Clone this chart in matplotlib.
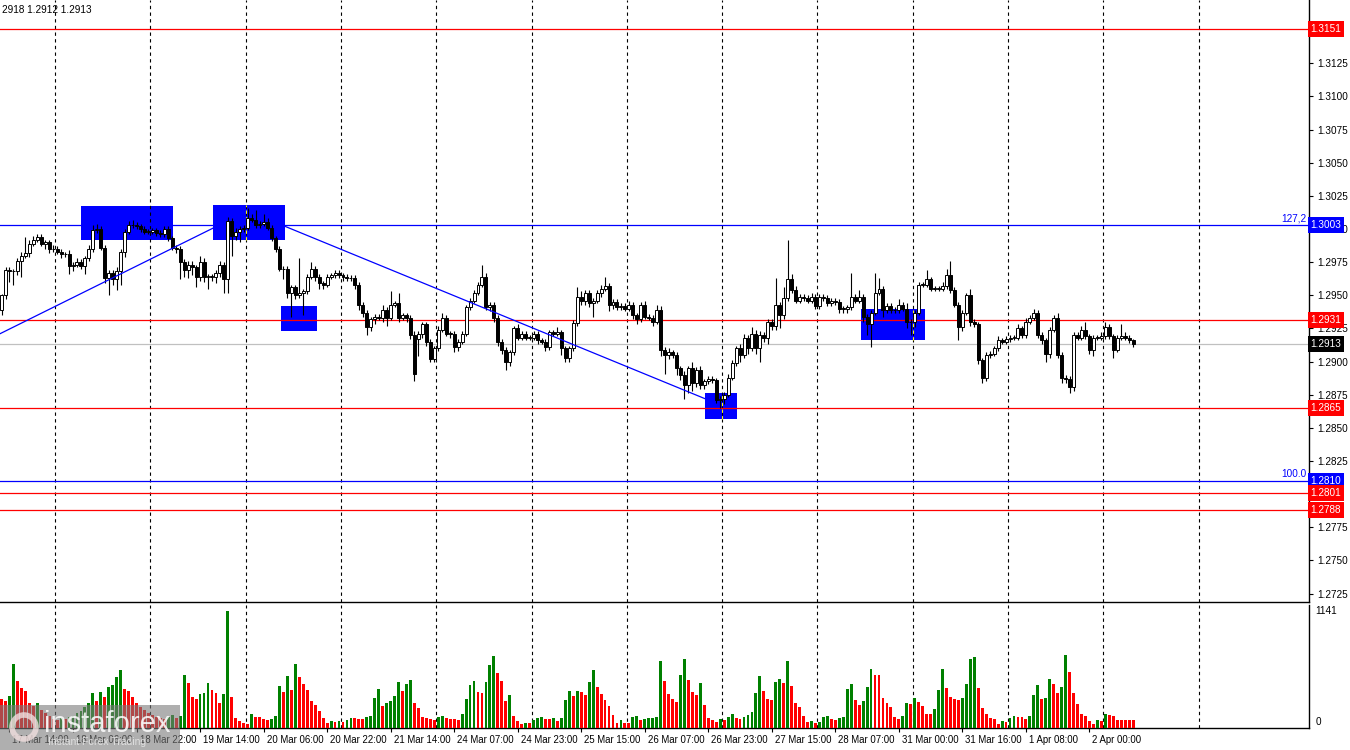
"""GBPUSD H1 candlestick chart with volumes, MT4 style."""

import numpy as np
import matplotlib
matplotlib.use('Agg')
import matplotlib.pyplot as plt
from matplotlib.patches import Rectangle, Ellipse
from matplotlib.transforms import blended_transform_factory, ScaledTranslation

plt.rcParams['font.family'] = ['Liberation Sans', 'DejaVu Sans']

# hourly closes, 17 Mar 12:00 .. 2 Apr 03:00
closes = [
    1.2950, 1.2969, 1.2968, 1.2968, 1.2976, 1.2980, 1.2982, 1.2989, 1.2992, 1.2994, 1.2989, 1.2990,
    1.2985, 1.2985, 1.2983, 1.2981, 1.2981, 1.2972, 1.2973, 1.2975, 1.2972, 1.2978, 1.2985, 1.2999,
    1.3000, 1.2986, 1.2963, 1.2967, 1.2962, 1.2968, 1.2983, 1.2998, 1.3003, 1.3003, 1.3002, 1.3000,
    1.2998, 1.2998, 1.2999, 1.2997, 1.2996, 1.3000, 1.2993, 1.2986, 1.2985, 1.2975, 1.2969, 1.2973,
    1.2971, 1.2964, 1.2975, 1.2964, 1.2964, 1.2964, 1.2967, 1.2973, 1.2962, 1.3006, 1.2995, 1.2998,
    1.3000, 1.3001, 1.3008, 1.3007, 1.3003, 1.3004, 1.3005, 1.3001, 1.2993, 1.2985, 1.2970, 1.2970,
    1.2952, 1.2956, 1.2950, 1.2952, 1.2953, 1.2964, 1.2970, 1.2964, 1.2959, 1.2958, 1.2964, 1.2965,
    1.2967, 1.2965, 1.2964, 1.2963, 1.2963, 1.2958, 1.2943, 1.2937, 1.2926, 1.2932, 1.2934, 1.2933,
    1.2939, 1.2933, 1.2943, 1.2944, 1.2933, 1.2935, 1.2933, 1.2920, 1.2891, 1.2921, 1.2928, 1.2915,
    1.2902, 1.2910, 1.2924, 1.2933, 1.2921, 1.2921, 1.2911, 1.2915, 1.2921, 1.2941, 1.2946, 1.2952,
    1.2958, 1.2964, 1.2941, 1.2943, 1.2933, 1.2915, 1.2909, 1.2900, 1.2907, 1.2925, 1.2918, 1.2921,
    1.2918, 1.2918, 1.2921, 1.2916, 1.2915, 1.2911, 1.2922, 1.2921, 1.2922, 1.2910, 1.2903, 1.2910,
    1.2929, 1.2949, 1.2946, 1.2952, 1.2944, 1.2946, 1.2952, 1.2955, 1.2957, 1.2943, 1.2945, 1.2941,
    1.2942, 1.2940, 1.2943, 1.2935, 1.2932, 1.2943, 1.2934, 1.2933, 1.2930, 1.2939, 1.2909, 1.2905,
    1.2907, 1.2905, 1.2895, 1.2890, 1.2882, 1.2895, 1.2884, 1.2894, 1.2882, 1.2885, 1.2887, 1.2886,
    1.2871, 1.2872, 1.2875, 1.2888, 1.2899, 1.2910, 1.2905, 1.2918, 1.2910, 1.2921, 1.2910, 1.2920,
    1.2918, 1.2930, 1.2927, 1.2943, 1.2935, 1.2948, 1.2962, 1.2954, 1.2946, 1.2949, 1.2948, 1.2946,
    1.2949, 1.2942, 1.2949, 1.2948, 1.2944, 1.2946, 1.2945, 1.2940, 1.2940, 1.2941, 1.2949, 1.2946,
    1.2949, 1.2934, 1.2928, 1.2937, 1.2952, 1.2955, 1.2939, 1.2942, 1.2939, 1.2939, 1.2943, 1.2940,
    1.2930, 1.2930, 1.2937, 1.2958, 1.2958, 1.2962, 1.2955, 1.2955, 1.2955, 1.2957, 1.2965, 1.2954,
    1.2943, 1.2926, 1.2937, 1.2950, 1.2930, 1.2928, 1.2901, 1.2888, 1.2905, 1.2906, 1.2910, 1.2916,
    1.2915, 1.2917, 1.2918, 1.2918, 1.2925, 1.2920, 1.2930, 1.2933, 1.2937, 1.2920, 1.2916, 1.2906,
    1.2924, 1.2933, 1.2905, 1.2888, 1.2887, 1.2881, 1.2920, 1.2918, 1.2924, 1.2919, 1.2909, 1.2918,
    1.2918, 1.2919, 1.2926, 1.2919, 1.2909, 1.2918, 1.2919, 1.2918, 1.2916, 1.2913,
]
first_open = 1.2939
gap_opens = {105: 1.2917}

# wick lengths in pips above / below the body
up_wick = [
    1, 2, 2, 2, 2, 3, 12, 3, 3, 2, 2, 2, 2, 3, 2, 2, 2, 3, 2, 3, 2, 2, 3, 4,
    4, 2, 2, 2, 2, 3, 2, 2, 3, 4, 2, 2, 2, 2, 2, 2, 2, 2, 2, 2, 2, 2, 2, 3,
    3, 2, 5, 3, 2, 2, 2, 3, 2, 3, 2, 3, 2, 2, 8, 3, 7, 2, 6, 3, 2, 2, 2, 2,
    2, 2, 2, 26, 2, 2, 5, 2, 2, 2, 2, 2, 2, 2, 2, 2, 2, 2, 2, 2, 2, 2, 2, 2,
    4, 2, 10, 2, 8, 2, 2, 2, 3, 2, 2, 2, 2, 2, 3, 4, 2, 2, 2, 2, 2, 2, 2, 2,
    2, 9, 3, 2, 2, 2, 2, 2, 2, 2, 3, 2, 2, 2, 2, 2, 2, 2, 2, 2, 4, 2, 2, 2,
    2, 7, 4, 2, 2, 2, 2, 3, 7, 2, 2, 2, 2, 2, 3, 2, 2, 2, 3, 2, 2, 4, 3, 2,
    3, 2, 2, 2, 3, 2, 5, 2, 3, 2, 2, 2, 2, 2, 2, 3, 2, 2, 3, 3, 2, 5, 3, 3,
    2, 2, 2, 20, 2, 8, 30, 4, 3, 2, 2, 2, 3, 2, 2, 2, 2, 2, 2, 2, 2, 2, 18, 2,
    5, 2, 2, 2, 15, 8, 2, 2, 2, 2, 4, 2, 4, 2, 2, 2, 2, 7, 2, 2, 2, 3, 5, 11,
    2, 2, 2, 2, 5, 2, 2, 2, 2, 2, 2, 3, 2, 2, 2, 2, 3, 2, 3, 2, 3, 2, 2, 2,
    2, 2, 4, 2, 2, 2, 2, 2, 3, 6, 2, 2, 2, 3, 4, 2, 2, 2, 9, 3, 2, 1,
]
dn_wick = [
    4, 3, 8, 10, 3, 12, 2, 3, 2, 2, 2, 4, 3, 2, 2, 3, 2, 6, 4, 2, 2, 6, 2, 2,
    2, 2, 4, 13, 4, 8, 10, 4, 2, 2, 2, 2, 2, 2, 2, 2, 2, 2, 2, 2, 3, 13, 5, 6,
    6, 8, 3, 4, 9, 3, 5, 3, 10, 10, 15, 3, 8, 2, 2, 2, 2, 2, 2, 2, 2, 2, 2, 8,
    4, 18, 3, 2, 17, 2, 2, 3, 4, 3, 2, 2, 2, 2, 3, 2, 2, 3, 4, 3, 6, 3, 4, 2,
    3, 6, 2, 2, 3, 2, 3, 3, 6, 13, 3, 3, 2, 2, 2, 2, 2, 3, 4, 3, 2, 2, 2, 2,
    2, 2, 2, 3, 3, 3, 3, 6, 3, 2, 2, 2, 2, 2, 2, 3, 2, 3, 2, 2, 2, 5, 3, 3,
    2, 2, 3, 3, 3, 10, 2, 3, 2, 5, 3, 2, 2, 2, 2, 3, 4, 2, 2, 2, 3, 2, 5, 14,
    3, 2, 5, 4, 10, 6, 6, 3, 3, 3, 2, 2, 2, 6, 4, 2, 2, 2, 5, 2, 4, 2, 4, 10,
    3, 5, 3, 3, 10, 3, 2, 2, 2, 2, 2, 2, 2, 2, 2, 2, 2, 2, 2, 3, 3, 3, 2, 2,
    2, 4, 8, 17, 2, 2, 5, 2, 2, 2, 2, 2, 5, 10, 4, 2, 2, 2, 2, 2, 2, 2, 2, 2,
    2, 10, 3, 2, 3, 2, 3, 4, 3, 2, 2, 2, 2, 2, 2, 2, 2, 2, 2, 2, 2, 2, 3, 6,
    3, 2, 2, 4, 3, 5, 3, 2, 2, 2, 3, 5, 2, 2, 2, 2, 6, 2, 2, 2, 2, 2,
]
volumes = [
    285, 266, 314, 625, 460, 392, 363, 243, 210, 246, 180, 150, 120, 90, 80, 100, 90, 110, 120, 150, 170, 200, 246, 343,
    266, 353, 305, 402, 421, 499, 567, 382, 363, 300, 240, 200, 180, 150, 130, 110, 100, 90, 110, 130, 100, 120, 518, 441,
    305, 285, 334, 340, 441, 373, 343, 246, 334, 1141, 305, 100, 71, 52, 42, 139, 110, 110, 91, 81, 91, 120, 411, 353,
    509, 373, 625, 499, 431, 373, 266, 227, 168, 100, 52, 71, 58, 71, 58, 81, 97, 97, 91, 91, 110, 120, 295, 382,
    217, 246, 266, 314, 450, 363, 431, 470, 246, 198, 110, 100, 91, 81, 110, 115, 100, 90, 85, 80, 139, 285, 421, 460,
    353, 343, 450, 616, 703, 538, 460, 266, 324, 120, 71, 42, 52, 48, 81, 100, 105, 91, 91, 100, 71, 100, 275, 363,
    314, 363, 353, 324, 450, 567, 402, 334, 275, 217, 130, 52, 81, 52, 52, 110, 120, 81, 91, 95, 100, 110, 654, 460,
    334, 285, 256, 518, 674, 470, 353, 324, 441, 227, 100, 81, 62, 91, 81, 110, 139, 100, 91, 110, 130, 159, 343, 509,
    363, 285, 275, 450, 480, 441, 654, 411, 246, 207, 120, 62, 71, 52, 58, 110, 120, 91, 81, 100, 110, 382, 431, 275,
    227, 266, 402, 577, 518, 518, 295, 246, 207, 110, 91, 120, 246, 236, 295, 256, 217, 139, 139, 188, 373, 577, 392, 305,
    285, 275, 295, 431, 674, 693, 392, 198, 139, 100, 91, 42, 71, 62, 100, 120, 110, 110, 91, 120, 324, 421, 285, 295,
    480, 431, 343, 402, 713, 548, 343, 236, 139, 120, 71, 42, 81, 71, 139, 130, 120, 81, 80, 80, 80, 80,
]

time_labels = [
    '17 Mar 14:00', '18 Mar 06:00', '18 Mar 22:00', '19 Mar 14:00', '20 Mar 06:00',
    '20 Mar 22:00', '21 Mar 14:00', '24 Mar 07:00', '24 Mar 23:00', '25 Mar 15:00',
    '26 Mar 07:00', '26 Mar 23:00', '27 Mar 15:00', '28 Mar 07:00', '31 Mar 00:00',
    '31 Mar 16:00', '1 Apr 08:00', '2 Apr 00:00',
]

# price scale labels (1.2800 sits under the 1.2801 tag)
price_ticks = [1.2725, 1.2750, 1.2775, 1.2825, 1.2850, 1.2875, 1.2900, 1.2925,
               1.2950, 1.2975, 1.3000, 1.3025, 1.3050, 1.3075, 1.3100, 1.3125]

# horizontal levels
levels = [1.3151, 1.3003, 1.2931, 1.2865, 1.2810, 1.2801, 1.2788]
level_colors = ['#FF0000', '#0000FF', '#FF0000', '#FF0000', '#0000FF', '#FF0000', '#FF0000']
current_price = 1.2913
fibo_names = ['127,2', '100.0']
fibo_prices = [1.3003, 1.2810]

# blue marker boxes (candle index range, price range)
box_start = [20.0, 53.3, 70.4, 177.2, 216.5]
box_end = [43.2, 71.4, 79.5, 185.3, 232.6]
box_low = [1.2992, 1.2992, 1.2923, 1.2857, 1.2916]
box_high = [1.3017, 1.3018, 1.2942, 1.2876, 1.2940]
box_yellow_grid = [False, True, False, True, True]

# trend lines
trend_x = [(-0.4, 53.5), (71.4, 177.2)]
trend_y = [(1.2921, 1.3001), (1.3002, 1.2872)]

FS = 7.2


def main():
    n = len(closes)
    idx = np.arange(n)
    c = np.array(closes)
    o = np.concatenate([[first_open], c[:-1]])
    for i, v in gap_opens.items():
        o[i] = v
    top = np.maximum(o, c)
    bot = np.minimum(o, c)
    hi = top + np.array(up_wick[:n]) * 1e-4
    lo = bot - np.array(dn_wick[:n]) * 1e-4
    vol = np.array(volumes[:n])

    W, H = 1350, 750
    fig = plt.figure(figsize=(13.5, 7.5), dpi=100)
    ax = fig.add_axes([0, (H - 602) / H, 1309 / W, 602 / H])
    axv = fig.add_axes([0, (H - 728) / H, 1309 / W, 123 / H])

    xlim = (-0.39, 329.3)
    ax.set_xlim(*xlim)
    axv.set_xlim(*xlim)
    ax.set_ylim(1.27187, 1.31727)
    axv.set_ylim(0, 1199.5)

    # vertical grid
    grid_x = 13.5 + 24 * np.arange(13)
    for a in (ax, axv):
        for gx in grid_x:
            a.axvline(gx, color='black', lw=0.8, ls=(0, (3, 3)), zorder=1.5)

    # marker boxes
    for k in range(len(box_start)):
        ax.add_patch(Rectangle((box_start[k], box_low[k]), box_end[k] - box_start[k],
                               box_high[k] - box_low[k], fc='#0000FF', ec='none', zorder=1))
        if box_yellow_grid[k]:
            for gx in grid_x:
                if box_start[k] < gx < box_end[k]:
                    ax.plot([gx, gx], [box_low[k], box_high[k]], color='#FFFF00',
                            lw=0.8, ls=(0, (3, 3)), zorder=1.6)

    # levels
    trans = blended_transform_factory(ax.transAxes, ax.transData)
    for lv, col in zip(levels, level_colors):
        ax.axhline(lv, color=col, lw=0.9, zorder=2)
    ax.axhline(current_price, color='#C0C0C0', lw=0.9, zorder=2)
    for name, p in zip(fibo_names, fibo_prices):
        ax.text(0.998, p + 0.00012, name, transform=trans, ha='right', va='bottom',
                color='#0000FF', fontsize=FS)

    # trend lines
    for tx, ty in zip(trend_x, trend_y):
        ax.plot(tx, ty, color='#0000FF', lw=0.9, zorder=6)

    # candles
    ax.vlines(idx, lo, hi, color='black', lw=0.8, zorder=3)
    body_h = np.maximum(top - bot, 0.00002)
    colors = np.where(c >= o, 'white', 'black')
    ax.bar(idx, body_h, bottom=bot, width=0.75, color=colors, edgecolor='black',
           linewidth=0.7, zorder=4)

    # volumes: green when above previous bar
    vcol = ['#FF0000'] + ['#008000' if vol[i] > vol[i - 1] else '#FF0000' for i in range(1, n)]
    axv.bar(idx, vol, width=0.72, color=vcol, zorder=3)

    # price axis
    ax.set_yticks(price_ticks)
    ax.set_yticklabels([f'{v:.4f}' for v in price_ticks])
    for a in (ax, axv):
        a.yaxis.tick_right()
        a.spines['top'].set_visible(False)
        a.spines['left'].set_visible(False)
        a.spines['right'].set_linewidth(1.0)
        a.spines['bottom'].set_linewidth(1.0)
    ax.tick_params(axis='y', direction='out', length=3, width=0.8, pad=3,
                   labelsize=FS, colors='black')
    ax.set_xticks([])

    for lv, col in zip(levels, level_colors):
        ax.text(1.0012, lv, f'{lv:.4f}', transform=trans, ha='left', va='center',
                color='white', fontsize=FS, clip_on=False, zorder=10,
                bbox=dict(boxstyle='square,pad=0.3', fc=col, ec='none'))
    ax.text(1.0012, current_price, f'{current_price:.4f}', transform=trans, ha='left',
            va='center', color='white', fontsize=FS, clip_on=False, zorder=10,
            bbox=dict(boxstyle='square,pad=0.3', fc='black', ec='none'))

    # volume axis
    axv.set_yticks([])
    vtrans = blended_transform_factory(axv.transAxes, axv.transData)
    axv.text(1.005, 1141, '1141', transform=vtrans, ha='left', va='center', fontsize=FS)
    axv.text(1.005, 60, '0', transform=vtrans, ha='left', va='center', fontsize=FS)

    # time axis
    tpos = 2 + 16 * np.arange(len(time_labels))
    axv.set_xticks(tpos)
    axv.set_xticklabels(time_labels)
    axv.tick_params(axis='x', direction='out', length=3, width=0.8, pad=2, labelsize=6.9)
    offset = ScaledTranslation(3 / 100, 0, fig.dpi_scale_trans)
    for lab in axv.get_xticklabels():
        lab.set_ha('left')
        lab.set_transform(lab.get_transform() + offset)

    fig.text(2 / W, 1 - 10 / H, '2918 1.2912 1.2913', fontsize=FS, va='center', ha='left')

    # logo
    fig.patches.append(Rectangle((0, 0), 180 / W, 45 / H, transform=fig.transFigure,
                                 fc='#7a7a7a', ec='none', alpha=0.6, zorder=5))
    fig.patches.append(Ellipse((24 / W, 23 / H), 24 / W, 24 / H, transform=fig.transFigure,
                               fc='none', ec='#f0dede', lw=4, alpha=0.8, zorder=6))
    fig.text(44 / W, 26 / H, 'instaforex', fontsize=21, color='white', alpha=0.85,
             va='center', ha='left', zorder=7)
    fig.text(48 / W, 8 / H, 'Instant Forex Trading', fontsize=7.5, color='#e8e8e8',
             alpha=0.85, va='center', ha='left', zorder=7)

    fig.savefig('out.png', dpi=100, facecolor='white')
    plt.close(fig)


if __name__ == '__main__':
    main()
